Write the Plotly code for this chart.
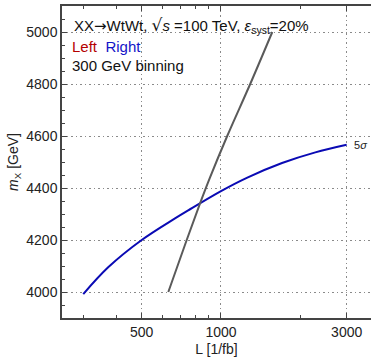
import numpy as np
import plotly.graph_objects as go

# Data
right_L = [300, 373, 500, 669, 751, 1000, 1259, 1705, 2281, 3000]
right_m = [3992, 4095, 4200, 4283, 4314, 4388, 4440, 4496, 4537, 4566]

left_L = [631, 741, 832, 908, 1056, 1291, 1566]
left_m = [4000, 4200, 4340, 4440, 4600, 4800, 5000]

x_ticks = [500, 1000, 3000]
x_tick_labels = ["500", "1000", "3000"]
x_minor = [300, 400, 600, 700, 800, 900, 2000]
y_ticks = [4000, 4200, 4400, 4600, 4800, 5000]

FONT = "Liberation Sans, Arial, sans-serif"
AX = "#444444"
GRID = "#8a8a8a"

fig = go.Figure()
fig.add_trace(go.Scatter(x=right_L, y=right_m, mode="lines",
                         line=dict(color="#0a0ab4", width=2, shape="spline", smoothing=1.0),
                         showlegend=False, hoverinfo="skip"))
fig.add_trace(go.Scatter(x=left_L, y=left_m, mode="lines",
                         line=dict(color="#5a5a5a", width=2, shape="spline", smoothing=1.0),
                         showlegend=False, hoverinfo="skip"))

fig.update_layout(
    width=371, height=358,
    margin=dict(l=62, r=0, t=6, b=40, autoexpand=False),
    paper_bgcolor="white", plot_bgcolor="white",
    font=dict(family=FONT, size=14, color="#222222"),
    xaxis=dict(
        type="log", range=[2.3964, 3.5695], automargin=False,
        tickmode="array", tickvals=x_ticks, ticktext=x_tick_labels,
        ticks="inside", ticklen=5, tickwidth=1, tickcolor=AX,
        showline=True, linecolor=AX, linewidth=1.5, mirror="ticks",
        showgrid=True, gridcolor=GRID, gridwidth=1, griddash="1.5px,3px",
        minor=dict(tickmode="array", tickvals=x_minor, ticks="inside", ticklen=3,
                   tickcolor=AX, showgrid=False),
        zeroline=False,
        title=dict(text="L [1/fb]", standoff=6, font=dict(size=14)),
        tickfont=dict(size=14),
    ),
    yaxis=dict(
        range=[3900, 5100], automargin=False,
        tickmode="array", tickvals=y_ticks,
        ticks="inside", ticklen=5, tickwidth=1, tickcolor=AX,
        showline=True, linecolor=AX, linewidth=1.5,
        showgrid=True, gridcolor=GRID, gridwidth=1, griddash="1.5px,3px",
        minor=dict(dtick=50, tick0=3900, ticks="inside", ticklen=3, tickcolor=AX, showgrid=False),
        zeroline=False,
        title=dict(text="<i>m</i><sub>X</sub> [GeV]", standoff=4, font=dict(size=14)),
        tickfont=dict(size=14),
    ),
)

fig.add_annotation(xref="paper", yref="paper", x=0.032, y=0.939, xanchor="left", yanchor="middle",
                   text="XX<span style='font-family:DejaVu Sans'>→</span>WtWt, "
                        "<span style='font-family:DejaVu Sans;font-size:17px'>√</span><i>s</i> =100 TeV, "
                        "<i>ε</i><sub>syst</sub>=20%",
                   showarrow=False, font=dict(size=15, color="#111111"))
fig.add_annotation(xref="paper", yref="paper", x=0.026, y=0.869, xanchor="left", yanchor="middle",
                   text="<span style='color:#b40000'>Left</span>  <span style='color:#1414c8'>Right</span>",
                   showarrow=False, font=dict(size=15))
fig.add_annotation(xref="paper", yref="paper", x=0.026, y=0.808, xanchor="left", yanchor="middle",
                   text="300 GeV binning", showarrow=False, font=dict(size=15, color="#111111"))
fig.add_annotation(x=np.log10(right_L[-1]), y=right_m[-1], xanchor="left", yanchor="middle",
                   xshift=5, text="5<i>σ</i>", showarrow=False, font=dict(size=11, color="#222222"))

fig.write_html("out.html", config={"displayModeBar": False},
               post_script="document.body.style.margin='0px';")
